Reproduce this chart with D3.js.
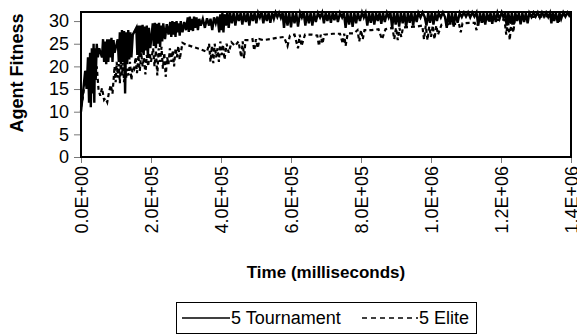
<!DOCTYPE html>
<html>
<head>
<meta charset="utf-8">
<script src="https://cdn.jsdelivr.net/npm/d3@7"></script>
<style>
  body { margin: 0; background: #fff; }
  svg { display: block; font-family: Arial, "Liberation Sans", sans-serif; }
</style>
</head>
<body>
<div id="chart"></div>
<script>
// tick values
const yTicks = [0, 5, 10, 15, 20, 25, 30];
const xTicks = [0, 2e5, 4e5, 6e5, 8e5, 1e6, 1.2e6, 1.4e6];
const seriesNames = ["5 Tournament", "5 Elite"];

// [time ms, fitness]
const tournament = [
  [0,10],[4e3,13],[8e3,16],[12e3,19],[16e3,15],[20e3,22],[23e3,12],[26e3,23],[28e3,11],[31e3,24],
  [33e3,14],[36e3,25],[38e3,12],[40e3,24],[42e3,17],[45e3,25],[48e3,22],[52e3,24],
  [60e3,22],[63e3,26],[66e3,21],[69e3,25.5],[72e3,20.5],[75e3,26],[78e3,21],[81e3,26],[84e3,22],[87e3,26.3],[90e3,21],[93e3,25.8],[96e3,23],
  [105e3,26],[108e3,21],[111e3,27.5],[114e3,20.5],[117e3,28],[120e3,21],[123e3,27.8],[126e3,14],[129e3,27.5],[132e3,20.5],[135e3,28],[138e3,21.5],[141e3,27.5],[144e3,22],[148e3,27],
  [158e3,28.5],[161e3,22.5],[164e3,29],[167e3,22],[170e3,29],[173e3,23],[176e3,29.2],[179e3,22.5],[182e3,28.8],[185e3,23.5],[188e3,29],[191e3,22],[194e3,28.5],[198e3,24],
  [205e3,29.5],[208e3,24.5],[211e3,29.6],[214e3,24],[217e3,29.4],[220e3,25],[223e3,29.6],[226e3,24.3],[229e3,29],[232e3,25.5],[235e3,29.5],[240e3,26],[245e3,29.3],[250e3,27],
  [255e3,29.8],[258e3,26.5],[261e3,30],[264e3,27],[267e3,29.8],[270e3,26.5],[273e3,30],[276e3,27.5],[279e3,29.5],[282e3,26.8],[285e3,30],[290e3,27.5],[295e3,29.8],[300e3,28],
  [305e3,30.8],[308e3,27.6],[311e3,31],[314e3,28],[317e3,30.5],[320e3,27.8],[323e3,31],[326e3,28.5],[330e3,30.8],[334e3,28],[338e3,30.5],[342e3,29],[348e3,30.5],[354e3,28.5],[360e3,30.6],
  [366e3,29],[370e3,30.5],[375e3,28],[380e3,30.8],[385e3,29.5],[390e3,31],[395e3,27.5],[398e3,31.5],[401e3,28],[404e3,31.8],[407e3,27.5],[410e3,31.5],[414e3,29],[418e3,31.8],[422e3,28.5],
  [426e3,31.8],[431e3,29.5],[436e3,31.8],[441e3,29],[446e3,31.8],[451e3,30],[456e3,31.8],[461e3,29.2],[466e3,31.8],[471e3,29.8],
  [476e3,31.8],[481e3,29],[486e3,31.8],[491e3,30],[496e3,31.8],[501e3,29.5],[506e3,31.8],[511e3,30.8],[516e3,31.9],[521e3,29.5],
  [526e3,31.8],[531e3,30],[536e3,31.8],[541e3,29.6],[546e3,31.8],[551e3,30.5],[556e3,31.9],[561e3,30.9],[566e3,31.8],[571e3,30.7],
  [576e3,31.8],[580e3,28.5],[585e3,31.8],[590e3,29],[595e3,31.8],[600e3,28.6],[605e3,31.8],[610e3,29.5],[615e3,31.8],[620e3,28.8],
  [626e3,31.8],[631e3,30.8],[636e3,31.9],[641e3,29],[646e3,31.8],[651e3,29.5],[656e3,31.8],[661e3,29],[666e3,31.8],[671e3,29.8],
  [677e3,31.8],[683e3,30.8],[689e3,31.9],[694e3,29.5],[699e3,31.8],[704e3,30],[709e3,31.8],[714e3,29.6],[719e3,31.8],[724e3,30.2],
  [729e3,31.8],[734e3,29.8],[740e3,31.8],[746e3,30.8],[751e3,31.9],[756e3,28.5],[761e3,31.8],[766e3,29.2],[771e3,31.8],[776e3,28.7],
  [781e3,31.8],[786e3,29.5],[791e3,31.8],[797e3,30],[803e3,31.9],[808e3,30.8],[813e3,31.8],[818e3,29],[823e3,31.8],[828e3,29.6],
  [833e3,31.8],[838e3,29.2],[843e3,31.8],[848e3,30],[853e3,31.8],[858e3,29.4],[863e3,31.8],[868e3,29.8],[874e3,31.8],[879e3,30.8],
  [884e3,31.9],[889e3,28.5],[894e3,31.8],[899e3,29.2],[904e3,31.8],[909e3,28.8],[914e3,31.8],[919e3,29.5],[924e3,31.8],[929e3,28.6],
  [934e3,31.8],[939e3,29.6],[944e3,31.8],[949e3,29],[954e3,31.8],[959e3,29.8],[964e3,31.8],[970e3,30.8],[976e3,31.9],[982e3,30.9],
  [987e3,29],[992e3,31.8],[997e3,29.6],[1002e3,31.8],[1007e3,29.2],[1012e3,31.8],[1017e3,30],[1022e3,31.8],[1028e3,30.8],[1034e3,31.9],
  [1040e3,30.9],[1045e3,28.5],[1050e3,31.8],[1055e3,29.2],[1060e3,31.8],[1065e3,28.8],[1070e3,31.8],[1076e3,29.6],[1082e3,31.8],[1088e3,30.9],
  [1094e3,31.9],[1100e3,31],[1106e3,31.9],[1112e3,30.8],[1118e3,31.9],[1124e3,31],[1130e3,31.9],[1135e3,29],[1140e3,31.8],[1145e3,29.6],
  [1150e3,31.8],[1155e3,29.2],[1160e3,31.8],[1165e3,30],[1170e3,31.8],[1175e3,29.4],[1180e3,31.8],[1185e3,29.8],[1190e3,31.8],[1196e3,30.5],
  [1202e3,31.9],[1207e3,30.8],[1212e3,31.8],[1216e3,29],[1221e3,31.8],[1226e3,29.5],[1231e3,31.8],[1236e3,29.2],[1241e3,31.8],[1246e3,30],
  [1251e3,31.8],[1256e3,29.3],[1261e3,31.8],[1266e3,29.8],[1271e3,31.8],[1276e3,29.5],[1281e3,31.8],[1287e3,30.9],[1293e3,31.9],[1299e3,31],
  [1305e3,31.9],[1311e3,30.8],[1317e3,31.9],[1323e3,31],[1329e3,31.9],[1335e3,30.9],[1340e3,31.8],[1344e3,29.5],[1348e3,31.8],[1352e3,30],
  [1357e3,31.8],[1362e3,29.6],[1367e3,31.8],[1372e3,30.5],[1378e3,31.9],[1384e3,31],[1390e3,31.9],[1395e3,31.2],[1400e3,31.8]
];

const elite = [
  [0,11],[5e3,13],[10e3,16],[15e3,19],[20e3,17],[25e3,21],[30e3,16],[35e3,22],[40e3,18],[45e3,20],
  [50e3,15],[55e3,13.5],[60e3,15.2],[66e3,12.6],[70e3,13],[75e3,12.1],[80e3,14.3],[85e3,15.9],[90e3,14],
  [93e3,17],[96e3,20],[99e3,16.5],[102e3,21],[105e3,17.5],[108e3,20.5],[111e3,16.3],[114e3,21.4],[117e3,18],[120e3,20.8],
  [123e3,16.5],[126e3,20],[129e3,17.5],[132e3,19.5],[136e3,18],[140e3,21],[144e3,17],[148e3,20],
  [152e3,19.5],[156e3,22],[160e3,18.5],[164e3,22.5],[168e3,19],[172e3,23],[176e3,20],[180e3,22],[184e3,18.2],[188e3,22.5],[192e3,20],[196e3,23],[200e3,21],
  [206e3,24],[210e3,20],[214e3,23.5],[218e3,18],[222e3,24],[226e3,21],[230e3,24.3],[234e3,19.5],[238e3,23],[242e3,17.7],
  [246e3,22],[250e3,20.5],[254e3,24],[258e3,21],[262e3,23.5],[266e3,20],[270e3,24],[274e3,22],[278e3,24.5],[282e3,21.5],
  [290e3,25.2],[300e3,24.8],[320e3,24.3],[340e3,23.8],[360e3,23.2],
  [366e3,25],[370e3,21],[374e3,24.5],[378e3,20.7],[382e3,25],[386e3,22],[390e3,24],[394e3,21],[398e3,25.5],[402e3,22.5],
  [406e3,24.8],[410e3,21.5],[416e3,25],[422e3,23],[430e3,25.3],[440e3,24.5],[450e3,25.5],[458e3,22],[462e3,25.5],[466e3,21.8],[470e3,25.8],
  [480e3,25.8],[490e3,26],[495e3,23.5],[500e3,26],[505e3,24],[510e3,26],[520e3,25.8],[540e3,26],[560e3,26.3],[580e3,26.5],[590e3,24.5],[597e3,26.8],
  [610e3,27],[620e3,24],[625e3,27],[630e3,24.5],[640e3,27],[660e3,27],[675e3,26.8],[680e3,24.5],[685e3,27],[690e3,25],[695e3,27],
  [720e3,27.2],[740e3,27.2],[748e3,25],[752e3,27.2],[756e3,24.5],[762e3,27.3],[780e3,27.3],
  [790e3,28],[795e3,25.5],[800e3,28],[805e3,26],[810e3,28],[830e3,28],[850e3,28.2],[860e3,26],[870e3,28.2],
  [890e3,28.5],[895e3,26],[900e3,28.5],[905e3,25.8],[910e3,28.5],[915e3,26.5],[920e3,28.6],[940e3,28.7],[960e3,28.8],
  [975e3,29],[980e3,26],[985e3,29],[990e3,25.8],[995e3,28.8],[1000e3,26.5],[1005e3,29],[1010e3,26],[1015e3,29],[1020e3,27],
  [1030e3,29.2],[1050e3,29.3],[1070e3,29.4],[1080e3,29.4],[1085e3,27.5],[1090e3,29.5],[1110e3,29.6],[1125e3,29.6],[1130e3,28],[1135e3,29.8],
  [1160e3,30],[1180e3,30.2],[1200e3,30.3],[1210e3,30.3],[1215e3,27],[1220e3,30.4],[1225e3,25.8],[1230e3,30.5],[1235e3,27.5],[1240e3,30.5],
  [1260e3,30.7],[1280e3,30.8],[1300e3,31],[1320e3,31],[1340e3,31.1],[1360e3,31.2],[1365e3,29.5],[1370e3,31.2],[1380e3,31.3],[1400e3,31.4]
];

const width = 577, height = 335;
const plot = {left: 81, right: 571, top: 12, bottom: 157};
const font = 'Arial, "Liberation Sans", sans-serif';

const svg = d3.select('#chart')
  .append('svg')
  .attr('width', width)
  .attr('height', height);

const x = d3.scaleLinear().domain([0, 1.4e6]).range([plot.left, plot.right]);
const y = d3.scaleLinear().domain([0, 32]).range([plot.bottom, plot.top]);

// y axis
const yAxis = svg.append('g')
  .attr('transform', `translate(${plot.left},0)`)
  .call(d3.axisLeft(y).tickValues(yTicks).tickSize(7).tickPadding(5).tickFormat(d3.format('d')));
yAxis.select('.domain').remove();
yAxis.selectAll('line').attr('stroke', '#777');
yAxis.selectAll('text').attr('font-size', 18).attr('fill', '#000').attr('font-family', font);

// x axis
const xAxis = svg.append('g')
  .attr('transform', `translate(0,${plot.bottom})`)
  .call(d3.axisBottom(x).tickValues(xTicks).tickSize(6)
    .tickFormat(d => d3.format('.1e')(d).toUpperCase().replace(/E([+-])(\d)$/, 'E$10$2')));
xAxis.select('.domain').remove();
xAxis.selectAll('line').attr('stroke', '#777');
xAxis.selectAll('text')
  .attr('font-size', 18).attr('fill', '#000').attr('font-family', font)
  .attr('transform', 'rotate(-90)')
  .attr('text-anchor', 'end')
  .attr('x', -9).attr('y', 0).attr('dy', '0.35em');

const line = d3.line().x(d => x(d[0])).y(d => y(d[1]));

const g = svg.append('g');
g.append('path')
  .datum(elite)
  .attr('fill', 'none')
  .attr('stroke', '#000')
  .attr('stroke-width', 2.2)
  .attr('stroke-dasharray', '4,3')
  .attr('d', line);

g.append('path')
  .datum(tournament)
  .attr('fill', 'none')
  .attr('stroke', '#000')
  .attr('stroke-width', 2.4)
  .attr('d', line);

// plot frame
svg.append('rect')
  .attr('x', plot.left).attr('y', plot.top)
  .attr('width', plot.right - plot.left).attr('height', plot.bottom - plot.top)
  .attr('fill', 'none').attr('stroke', '#000').attr('stroke-width', 2);

// titles
svg.append('text')
  .attr('transform', 'translate(17,73) rotate(-90)')
  .attr('text-anchor', 'middle')
  .attr('dy', '0.35em')
  .attr('font-size', 18).attr('font-weight', 'bold')
  .text('Agent Fitness');

svg.append('text')
  .attr('x', (plot.left + plot.right) / 2).attr('y', 278)
  .attr('text-anchor', 'middle')
  .attr('font-size', 17).attr('font-weight', 'bold')
  .text('Time (milliseconds)');

// legend
const legend = svg.append('g');
legend.append('rect')
  .attr('x', 176.5).attr('y', 302.5).attr('width', 300).attr('height', 31)
  .attr('fill', '#fff').attr('stroke', '#000').attr('stroke-width', 1);
const legendItems = [
  {name: seriesNames[0], x1: 182, x2: 230, dash: null},
  {name: seriesNames[1], x1: 362, x2: 418, dash: '5,4'}
];
legendItems.forEach(it => {
  legend.append('line')
    .attr('x1', it.x1).attr('x2', it.x2).attr('y1', 318).attr('y2', 318)
    .attr('stroke', '#000').attr('stroke-width', 1.5)
    .attr('stroke-dasharray', it.dash);
  legend.append('text')
    .attr('x', it.x2 + 1).attr('y', 324)
    .attr('font-size', 18)
    .text(it.name);
});
</script>
</body>
</html>
